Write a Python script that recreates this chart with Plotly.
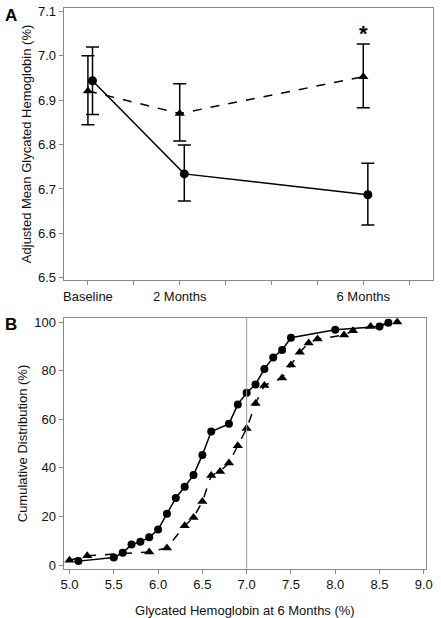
import plotly.graph_objects as go

# ---- Panel A data ----
months_tri = [0, 2, 6]
months_cir = [0.1, 2.1, 6.1]
tri_mean = [6.921, 6.870, 6.953]
tri_upper = [7.000, 6.937, 7.027]
tri_lower = [6.845, 6.808, 6.883]
cir_mean = [6.944, 6.734, 6.687]
cir_upper = [7.020, 6.799, 6.758]
cir_lower = [6.868, 6.673, 6.619]
a_tickvals = [0, 1, 2, 3, 4, 5, 6, 7]
a_ticktext = ["Baseline", "", "2 Months", "", "", "", "6 Months", ""]

# ---- Panel B data ----
cir_x = [5.1, 5.5, 5.6, 5.7, 5.8, 5.9, 6.0, 6.1, 6.2, 6.3, 6.4, 6.5, 6.6, 6.8,
         6.9, 7.0, 7.1, 7.2, 7.3, 7.4, 7.5, 8.0, 8.5, 8.6]
cir_y = [1.6, 3.1, 5.0, 8.4, 9.6, 11.4, 14.6, 21.1, 27.6, 32.2, 37.0, 45.3, 54.9,
         58.1, 66.1, 70.9, 74.3, 80.7, 85.4, 88.5, 93.5, 96.8, 98.1, 99.7]
tri_x = [5.0, 5.2, 5.9, 6.1, 6.3, 6.4, 6.5, 6.6, 6.7, 6.8, 6.9, 7.0, 7.1, 7.2,
         7.4, 7.5, 7.6, 7.7, 7.8, 8.1, 8.2, 8.4, 8.7]
tri_y = [2.0, 3.8, 5.4, 7.0, 16.2, 19.5, 26.1, 36.8, 38.5, 42.0, 49.1, 56.2, 66.5,
         73.9, 77.0, 82.3, 87.6, 91.4, 93.0, 94.6, 96.4, 98.1, 100.0]

FONT = "Arial, Liberation Sans, sans-serif"
FRAME = "#8a8a8a"

fig = go.Figure()

fig.add_trace(go.Scatter(
    x=months_tri, y=tri_mean, mode="lines+markers",
    line=dict(color="black", width=1.5, dash="dash"),
    marker=dict(symbol="triangle-up", size=9, color="black"),
    error_y=dict(type="data", symmetric=False,
                 array=[u - m for u, m in zip(tri_upper, tri_mean)],
                 arrayminus=[m - l for m, l in zip(tri_mean, tri_lower)],
                 color="black", thickness=1.5, width=6.5),
    xaxis="x", yaxis="y", showlegend=False))

fig.add_trace(go.Scatter(
    x=months_cir, y=cir_mean, mode="lines+markers",
    line=dict(color="black", width=1.5),
    marker=dict(symbol="circle", size=9, color="black"),
    error_y=dict(type="data", symmetric=False,
                 array=[u - m for u, m in zip(cir_upper, cir_mean)],
                 arrayminus=[m - l for m, l in zip(cir_mean, cir_lower)],
                 color="black", thickness=1.5, width=6.5),
    xaxis="x", yaxis="y", showlegend=False))

fig.add_trace(go.Scatter(
    x=cir_x, y=cir_y, mode="lines+markers",
    line=dict(color="black", width=1.5),
    marker=dict(symbol="circle", size=8, color="black"),
    xaxis="x2", yaxis="y2", showlegend=False))

fig.add_trace(go.Scatter(
    x=tri_x, y=tri_y, mode="lines+markers",
    line=dict(color="black", width=1.5, dash="dash"),
    marker=dict(symbol="triangle-up", size=9, color="black"),
    xaxis="x2", yaxis="y2", showlegend=False))

axis_common = dict(showline=True, linecolor=FRAME, linewidth=1, mirror=True,
                   showgrid=False, zeroline=False, ticks="outside",
                   tickcolor=FRAME, ticklen=4,
                   tickfont=dict(family=FONT, size=13, color="#111"))

fig.update_layout(
    width=441, height=618,
    margin=dict(l=0, r=0, t=0, b=0),
    paper_bgcolor="white", plot_bgcolor="white",
    font=dict(family=FONT, size=13, color="#111"),
    xaxis=dict(domain=[62 / 441, 440 / 441], range=[-0.53, 7.52],
               tickvals=a_tickvals, ticktext=a_ticktext, anchor="y",
               **axis_common),
    yaxis=dict(domain=[(618 - 280) / 618, (618 - 4) / 618], range=[6.495, 7.108],
               tickvals=[6.5, 6.6, 6.7, 6.8, 6.9, 7.0, 7.1], tickformat=".1f",
               anchor="x",
               title=dict(text="Adjusted Mean Glycated Hemoglobin (%)",
                          font=dict(size=13), standoff=3),
               **axis_common),
    xaxis2=dict(domain=[62 / 441, 433 / 441], range=[4.933, 9.027],
                tickvals=[5.0, 5.5, 6.0, 6.5, 7.0, 7.5, 8.0, 8.5, 9.0],
                tickformat=".1f", anchor="y2",
                title=dict(text="Glycated Hemoglobin at 6 Months (%)",
                           font=dict(size=13), standoff=14),
                **axis_common),
    yaxis2=dict(domain=[(618 - 573) / 618, (618 - 319) / 618], range=[-1.5, 101.5],
                tickvals=[0, 20, 40, 60, 80, 100], anchor="x2",
                title=dict(text="Cumulative Distribution (%)",
                           font=dict(size=13), standoff=3),
                **axis_common),
    shapes=[dict(type="line", xref="x2", yref="y2 domain", x0=7.0, x1=7.0,
                 y0=0, y1=1, line=dict(color="#999999", width=1))],
    annotations=[
        dict(text="<b>A</b>", x=8 / 441, y=1 - 12 / 618, xref="paper", yref="paper",
             xanchor="center", yanchor="middle",
             showarrow=False, font=dict(size=17, color="black", family=FONT)),
        dict(text="<b>B</b>", x=8 / 441, y=1 - 325 / 618, xref="paper", yref="paper",
             xanchor="center", yanchor="middle",
             showarrow=False, font=dict(size=17, color="black", family=FONT)),
        dict(text="<b>*</b>", x=6, y=7.05, xref="x", yref="y", showarrow=False,
             font=dict(size=22, color="black", family=FONT)),
    ],
)

fig.write_html("out.html", config={"displayModeBar": False},
               post_script="document.body.style.margin='0';document.body.style.overflow='hidden';")
